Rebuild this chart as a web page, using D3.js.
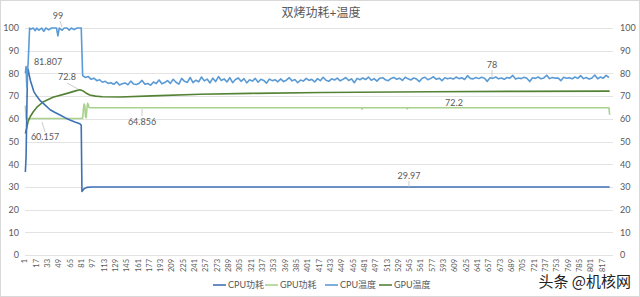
<!DOCTYPE html>
<html>
<head>
<meta charset="utf-8">
<script src="https://cdn.jsdelivr.net/npm/d3@7"></script>
<style>
  body { margin: 0; background: #fff; }
</style>
</head>
<body>
<script>
// ---- data ----
const title = "双烤功耗+温度";
const seriesNames = ["CPU功耗", "GPU功耗", "CPU温度", "GPU温度"];
const yTicks = [0, 10, 20, 30, 40, 50, 60, 70, 80, 90, 100];
const xTickLabels = [1, 17, 33, 49, 65, 81, 97, 113, 129, 145, 161, 177, 193, 209, 225, 241, 257,
  273, 289, 305, 321, 337, 353, 369, 385, 401, 417, 433, 449, 465, 481, 497, 513, 529, 545,
  561, 577, 593, 609, 625, 641, 657, 673, 689, 705, 721, 737, 753, 769, 785, 801, 817];
const nPoints = 827;

// [sample index, value]
const cpuPower = [[1, 36.6], [2, 43], [3, 62], [4, 80], [5, 81.8], [6, 80], [8, 77], [10, 75],
  [13, 72], [17, 70], [22, 68], [29, 66], [36, 64], [43, 62.8], [50, 61.7], [57, 60.5],
  [64, 59.5], [71, 58.6], [78, 57.8], [80, 57.2], [81, 28], [84, 29.2], [88, 29.8],
  [95, 29.97], [827, 29.97]];

const gpuPower = [[1, 65.8], [2, 60.3], [3, 60.16], [80, 60.16], [82, 60.3], [83, 64], [84, 66.5],
  [85, 66], [86, 61], [87, 60.5], [88, 64.5], [89, 66.8], [90, 66.2], [91, 65], [92, 64.86],
  [476, 64.86], [477, 64.3], [478, 64.86], [540, 64.86], [541, 64.4], [542, 64.86],
  [826, 64.86], [827, 61.8]];

const gpuTemp = [[1, 53.5], [3, 56], [5, 59], [8, 61], [12, 63], [17, 65], [26, 67.4], [40, 69.5],
  [60, 71.2], [72, 72.3], [78, 72.8], [82, 72.4], [86, 71.5], [92, 70.5], [100, 70], [110, 69.7],
  [135, 69.6], [180, 70.1], [248, 70.8], [319, 71.2], [420, 71.6], [574, 71.9], [700, 72.1],
  [827, 72.2]];

// CPU temperature: head while at the limit, then readings every 4 samples from 82
const cpuTempHead = [[1, 80], [2, 83], [3, 74], [4, 81], [5, 85], [6, 92], [7, 100], [9, 99.5],
  [12, 100], [15, 98.8], [17, 100], [20, 99], [24, 100], [27, 98.5], [30, 100], [34, 99.2],
  [38, 100], [45, 100], [47, 96.5], [49, 100], [53, 99], [56, 100], [60, 100], [63, 99],
  [66, 100], [70, 99.3], [74, 100], [80, 100]];
const cpuTempTailStart = 82;
const cpuTempTailStep = 4;
const cpuTempTail = [
  79, 78.2, 78.6, 77.4, 77.9, 76.8, 77.2, 76.1, 76.5, 75.6,
  75.9, 75.2, 76.3, 74.9, 75.4, 75.8, 75.0, 76.6, 75.3, 75.1,
  75.7, 76.9, 75.2, 75.6, 74.8, 76.2, 75.5, 77.1, 75.4, 76.0,
  76.8, 75.6, 77.4, 76.1, 75.3, 77.8, 76.5, 76.0, 78.2, 75.9,
  77.0, 76.3, 78.4, 76.7, 77.5, 75.8, 77.9, 76.4, 78.6, 76.9,
  77.6, 76.2, 78.1, 75.9, 77.3, 78.0, 76.5, 77.7, 75.8, 77.2,
  76.6, 77.8, 76.1, 77.4, 76.9, 75.7, 77.5, 76.8, 77.2, 76.3,
  77.6, 76.4, 77.0, 78.1, 76.7, 77.3, 75.9, 77.1, 76.6, 77.8,
  76.9, 77.4, 76.2, 77.7, 76.8, 78.3, 77.0, 76.5, 77.6, 77.1,
  77.9, 76.7, 77.4, 78.2, 76.9, 77.6, 75.9, 77.8, 77.2, 78.0,
  77.3, 78.4, 77.0, 77.7, 76.6, 77.9, 78.1, 77.2, 76.8, 77.8,
  78.2, 77.4, 77.9, 76.9, 78.3, 77.6, 77.1, 78.0, 77.5, 76.4,
  77.9, 78.3, 77.2, 77.8, 78.5, 77.4, 77.9, 76.8, 78.1, 77.6,
  78.0, 77.5, 78.4, 77.7, 78.1, 77.3, 79.0, 77.8, 77.6, 78.2,
  77.7, 78.3, 77.9, 76.5, 78.1, 77.8, 78.4, 77.6, 78.0, 77.4,
  78.2, 77.9, 79.1, 77.5, 78.0, 77.7, 78.3, 77.9, 76.4, 78.1,
  77.8, 78.4, 77.6, 78.0, 79.2, 77.7, 78.2, 77.9, 78.0, 76.8,
  78.3, 77.9, 78.1, 77.6, 78.4, 77.8, 79.0, 77.7, 78.2, 77.5,
  78.0, 79.3, 77.6, 78.4, 77.9, 79.1, 78.2];

// data labels: [index, value, text]
const dataLabels = [
  [60, 99, "99"], [5, 81.807, "81.807"], [78, 72.8, "72.8"], [40, 60.157, "60.157"],
  [166, 64.856, "64.856"], [544, 29.97, "29.97"], [662, 78, "78"], [606, 72.2, "72.2"]];

// ---- drawing ----
const width = 640;
const height = 297;
const colors = ["#3F72B5", "#A9D18E", "#5B9BD5", "#548235"];
const textColor = "#595959";
const font = "Lato, 'Noto Sans CJK SC', sans-serif";

const cpuTemp = cpuTempHead.concat(
  cpuTempTail.map((v, i) => [cpuTempTailStart + i * cpuTempTailStep, v])
);

const x = d3.scaleLinear().domain([0.5, nPoints + 0.5]).range([25, 610]);
const y = d3.scaleLinear().domain([0, 100]).range([255, 28]);

const svg = d3.select("body")
  .append("svg")
  .attr("width", width)
  .attr("height", height)
  .attr("viewBox", `0 0 ${width} ${height}`)
  .style("font-family", font)
  .style("background", "#fff");

svg.append("rect")
  .attr("x", 0.5).attr("y", 0.5)
  .attr("width", width - 1).attr("height", height - 1)
  .attr("fill", "#fff")
  .attr("stroke", "#D9D9D9");

svg.append("text")
  .attr("x", 321).attr("y", 17)
  .attr("text-anchor", "middle")
  .attr("fill", textColor)
  .style("font-size", "12px")
  .text(title);

// grid
svg.append("g")
  .selectAll("line")
  .data(yTicks)
  .join("line")
  .attr("x1", 25).attr("x2", 613)
  .attr("y1", (d) => Math.round(y(d)) + 0.5)
  .attr("y2", (d) => Math.round(y(d)) + 0.5)
  .attr("stroke", "#E3E3E3")
  .attr("stroke-width", 1);

// y axes
const leftAxis = svg.append("g")
  .attr("transform", "translate(19,0)")
  .call(d3.axisLeft(y).tickValues(yTicks).tickSize(0).tickPadding(0));
const rightAxis = svg.append("g")
  .attr("transform", "translate(620,0)")
  .call(d3.axisRight(y).tickValues(yTicks).tickSize(0).tickPadding(0));
[leftAxis, rightAxis].forEach((a) => {
  a.select(".domain").remove();
  a.selectAll("text")
    .attr("fill", textColor)
    .style("font-family", font)
    .style("font-size", "9px");
});

// x tick labels (rotated)
svg.append("g")
  .selectAll("text")
  .data(xTickLabels)
  .join("text")
  .attr("transform", (d) => `translate(${x(d) + 2},259) rotate(-90)`)
  .attr("text-anchor", "end")
  .attr("fill", textColor)
  .style("font-size", "7.5px")
  .text((d) => d);

// lines
const line = d3.line()
  .x((d) => x(d[0]))
  .y((d) => y(d[1]));

const drawOrder = [[gpuPower, 1], [gpuTemp, 3], [cpuPower, 0], [cpuTemp, 2]];
svg.append("g")
  .attr("fill", "none")
  .attr("stroke-linejoin", "round")
  .selectAll("path")
  .data(drawOrder)
  .join("path")
  .attr("stroke", (d) => colors[d[1]])
  .attr("stroke-width", 1.6)
  .attr("d", (d) => line(d[0]));

// data labels with leader lines
const labelPos = {
  "99": [58, 19, [[60, 21], [62, 27]]],
  "81.807": [48, 65, null],
  "72.8": [67, 80, [[67, 83], [78, 89]]],
  "60.157": [45, 140, [[45, 132], [42, 122]]],
  "64.856": [142, 125, [[142, 116], [142, 109]]],
  "29.97": [409, 179, [[409, 181], [409, 187]]],
  "78": [492, 68, [[492, 70], [492, 77]]],
  "72.2": [454, 106, null]
};
const lbl = svg.append("g");
dataLabels.forEach(([i, v, t]) => {
  const p = labelPos[t];
  if (p[2]) {
    lbl.append("path")
      .attr("d", d3.line()(p[2]))
      .attr("stroke", "#BFBFBF")
      .attr("stroke-width", 0.8)
      .attr("fill", "none");
  }
  lbl.append("text")
    .attr("x", p[0]).attr("y", p[1])
    .attr("text-anchor", "middle")
    .attr("fill", textColor)
    .style("font-size", "9px")
    .text(t);
});

// legend
const legendX = [213, 265, 325, 379];
const legend = svg.append("g")
  .selectAll("g")
  .data(seriesNames)
  .join("g")
  .attr("transform", (d, i) => `translate(${legendX[i]},285)`);
legend.append("line")
  .attr("x1", 0).attr("x2", 13)
  .attr("stroke", (d, i) => colors[i])
  .attr("stroke-width", 1.6);
legend.append("text")
  .attr("x", 15).attr("dy", "0.35em")
  .attr("fill", textColor)
  .style("font-size", "9px")
  .text((d) => d);

// watermark
svg.append("text")
  .attr("x", 631).attr("y", 287)
  .attr("text-anchor", "end")
  .attr("fill", "#222")
  .attr("stroke", "#fff")
  .attr("stroke-width", 2)
  .attr("paint-order", "stroke")
  .style("font-family", "'Noto Sans CJK SC', sans-serif")
  .style("font-size", "15px")
  .text("头条 @机核网");
</script>
</body>
</html>
